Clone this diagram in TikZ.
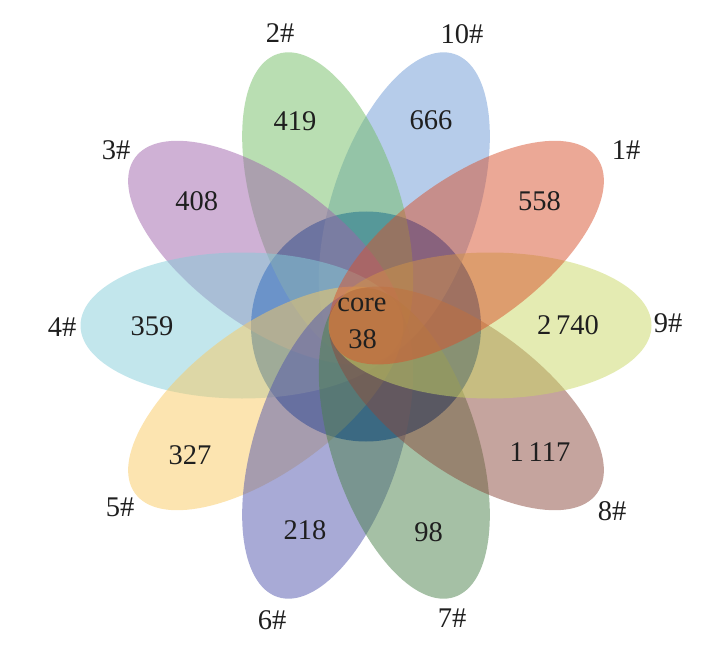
\documentclass[tikz,border=0pt]{standalone}
\usepackage{fontspec}
\setmainfont{Liberation Serif}
\begin{document}
\begin{tikzpicture}[x=1pt,y=-1pt,
  petal/.style={fill opacity=0.5},
  lbl/.style={inner sep=0pt,anchor=center,font=\fontsize{28.5}{32}\selectfont,text=black!88}]
\definecolor{c1}{RGB}{215,81,45}
\definecolor{c2}{RGB}{115,189,101}
\definecolor{c3}{RGB}{159,99,171}
\definecolor{c4}{RGB}{133,205,217}
\definecolor{c5}{RGB}{249,201,97}
\definecolor{c6}{RGB}{81,85,173}
\definecolor{c7}{RGB}{75,129,75}
\definecolor{c8}{RGB}{139,73,61}
\definecolor{c9}{RGB}{201,215,101}
\definecolor{c10}{RGB}{109,153,213}
\definecolor{corec}{RGB}{5,80,200}
\useasboundingbox (0,0) rectangle (719,660);
\coordinate (C) at (366,325.5);
\fill[fill=corec] (366,326.5) circle [radius=115pt];
\foreach \ang/\col in {72/c10,108/c2,144/c3,180/c4,216/c5,252/c6,288/c7,324/c8,0/c9,36/c1}{
  \fill[petal,fill=\col,rotate around={\ang:(C)}] ([xshift=124pt]C) ellipse [x radius=161.5pt, y radius=73pt];
}
\node[lbl] (core) at (362,305) {core};
\node[lbl] (n38) at (362.5,339) {38};
\node[lbl] (v1) at (539.5,201.5) {558};
\node[lbl] (v2) at (295,121) {419};
\node[lbl] (v3) at (196.7,201) {408};
\node[lbl] (v4) at (152,326) {359};
\node[lbl] (v5) at (190,455.5) {327};
\node[lbl] (v6) at (305,530) {218};
\node[lbl] (v7) at (428.5,532) {98};
\node[lbl] (v8) at (540,452) {1\,117};
\node[lbl] (v9) at (568,325) {2\,740};
\node[lbl] (v10) at (431,120.5) {666};
\node[lbl] (l1) at (626,150) {1\#};
\node[lbl] (l2) at (280,33) {2\#};
\node[lbl] (l3) at (116,150) {3\#};
\node[lbl] (l4) at (62,327) {4\#};
\node[lbl] (l5) at (120,507) {5\#};
\node[lbl] (l6) at (272,620) {6\#};
\node[lbl] (l7) at (452,618) {7\#};
\node[lbl] (l8) at (612,511) {8\#};
\node[lbl] (l9) at (668,323) {9\#};
\node[lbl] (l10) at (462,34) {10\#};
\end{tikzpicture}
\end{document}
